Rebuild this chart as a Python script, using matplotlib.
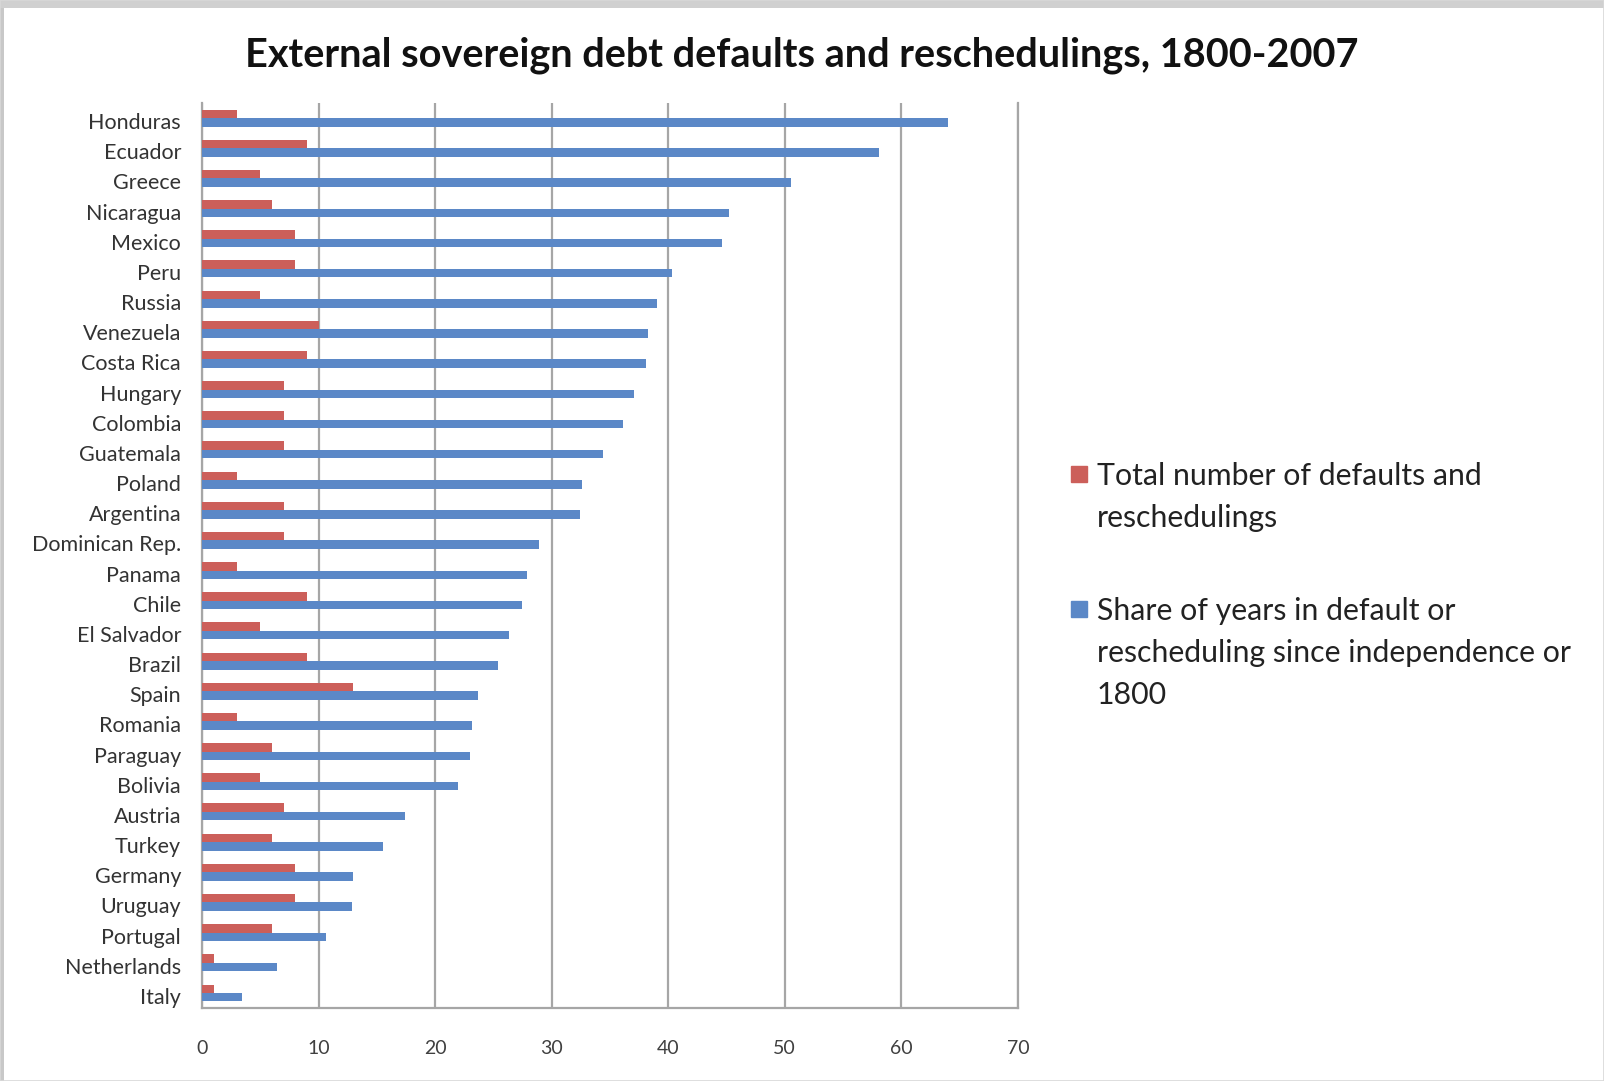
import matplotlib.pyplot as plt
from matplotlib.patches import Rectangle
import numpy as np

plt.rcParams["font.family"] = ["Lato", "DejaVu Sans"]

# Countries, top to bottom
countries = [
    "Honduras", "Ecuador", "Greece", "Nicaragua", "Mexico", "Peru", "Russia",
    "Venezuela", "Costa Rica", "Hungary", "Colombia", "Guatemala", "Poland",
    "Argentina", "Dominican Rep.", "Panama", "Chile", "El Salvador", "Brazil",
    "Spain", "Romania", "Paraguay", "Bolivia", "Austria", "Turkey", "Germany",
    "Uruguay", "Portugal", "Netherlands", "Italy",
]

# Total number of defaults and reschedulings
defaults = [3, 9, 5, 6, 8, 8, 5, 10, 9, 7, 7, 7, 3, 7, 7, 3, 9, 5, 9,
            13, 3, 6, 5, 7, 6, 8, 8, 6, 1, 1]

# Share of years in default or rescheduling (%)
share = [64.0, 58.1, 50.5, 45.2, 44.6, 40.3, 39.0, 38.3, 38.1, 37.1, 36.1,
         34.4, 32.6, 32.4, 28.9, 27.9, 27.5, 26.3, 25.4, 23.7, 23.2, 23.0,
         22.0, 17.4, 15.5, 13.0, 12.9, 10.6, 6.4, 3.4]

legend_labels = [
    "Total number of defaults and\nreschedulings",
    "Share of years in default or\nrescheduling since independence or\n1800",
]

red = "#CC5F5A"
blue = "#5B88C7"
grid_grey = "#A6A6A6"

fig = plt.figure(figsize=(16.04, 10.81), dpi=100)
ax = fig.add_axes([0.1259, 0.0675, 0.5087, 0.8372])

y = np.arange(len(countries))
h = 0.28
ax.barh(y - h / 2, defaults, height=h, color=red, zorder=3)
ax.barh(y + h / 2, share, height=h, color=blue, zorder=3)

ax.set_ylim(len(countries) - 0.5, -0.5)
ax.set_xlim(0, 70)
ax.set_xticks(range(0, 71, 10))
ax.set_yticks(y + 0.1)
ax.set_yticklabels(countries)

ax.grid(axis="x", color=grid_grey, linewidth=1.6, zorder=0)
ax.tick_params(axis="y", length=0, pad=15, labelsize=15.5, labelcolor="#333333")
ax.tick_params(axis="x", length=0, pad=23, labelsize=14, labelcolor="#404040")
for side in ["left", "bottom", "right"]:
    ax.spines[side].set_color(grid_grey)
    ax.spines[side].set_linewidth(1.6)
ax.spines["top"].set_visible(False)

fig.text(0.5, 0.949, "External sovereign debt defaults and reschedulings, 1800-2007",
         ha="center", va="center", fontsize=28.5, fontweight="bold", color="#111111")

# Legend drawn by hand so the swatch sits beside the first line of each label
W, H = fig.get_size_inches() * fig.dpi
for color, label, top in zip([red, blue], legend_labels, [466, 601]):
    fig.add_artist(Rectangle((1071 / W, 1 - (top + 16) / H), 16 / W, 16 / H,
                             transform=fig.transFigure, color=color))
    fig.text(1097 / W, 1 - (top - 4) / H, label, ha="left", va="top",
             fontsize=21.8, color="#222222", linespacing=1.6)

# Frame around the chart
fig.add_artist(Rectangle((0, 0), 4 / W, 1, transform=fig.transFigure,
                         color="#C8C8C8", lw=0))
fig.add_artist(Rectangle((0, 1 - 8 / H), 1, 8 / H, transform=fig.transFigure,
                         color="#D0D0D0", lw=0))
fig.add_artist(Rectangle((0, 0), 1, 1, transform=fig.transFigure, fill=False,
                         edgecolor="#D8D8D8", lw=1.2))

fig.savefig("out.png", dpi=100)
